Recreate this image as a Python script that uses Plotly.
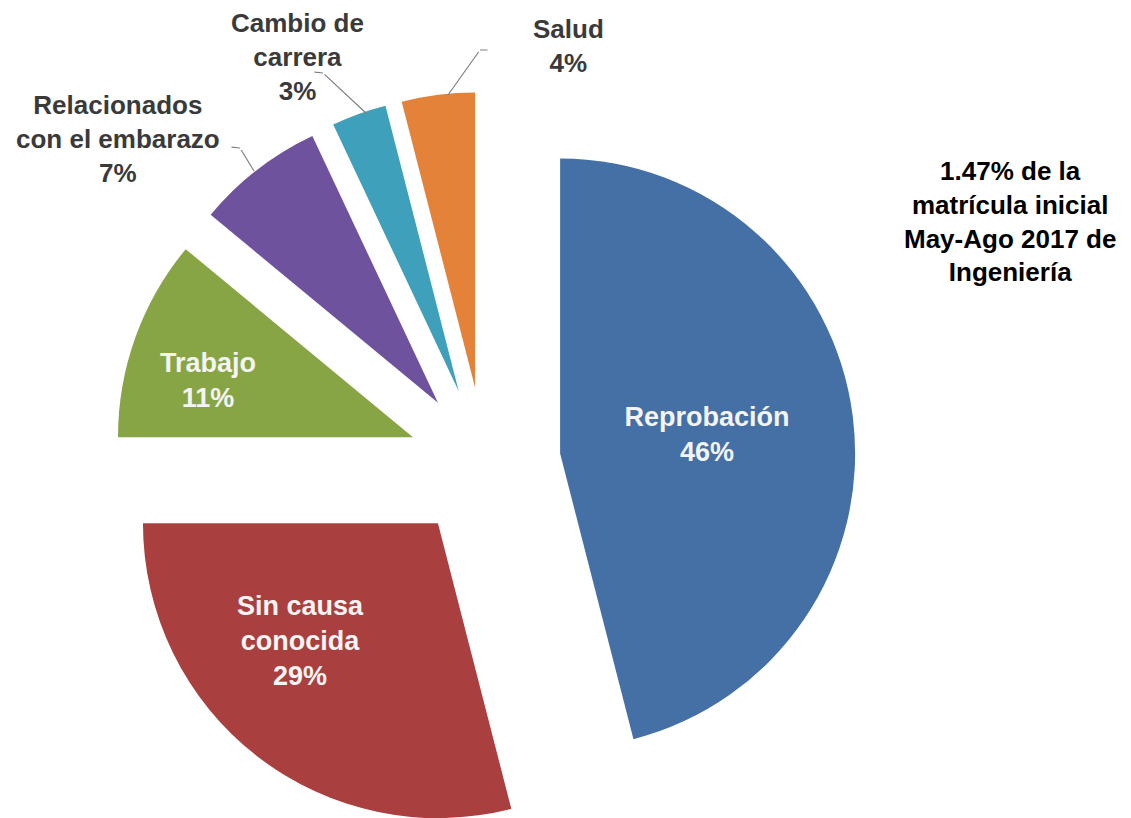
import textwrap
import plotly.graph_objects as go

# ---------------- data ----------------
categories = ["Reprobación", "Sin causa conocida", "Trabajo",
              "Relacionados con el embarazo", "Cambio de carrera", "Salud"]
values = [46, 29, 11, 7, 3, 4]
colors = ["#4470A6", "#A9403F", "#87A545", "#6E529E", "#3EA0BA", "#E4823A"]
note_lines = ["1.47% de la", "matrícula inicial", "May-Ago 2017 de", "Ingeniería"]

# ---------------- layout helpers ----------------
W, H = 1131, 850          # figure size (page shows top-left 1131x818 after body margin)
OFF = 8                   # default body margin of the html page
FONT = "Liberation Sans, Arial, Helvetica, sans-serif"


def px(x):
    return (x - OFF) / W


def py(y):
    return 1 - (y - OFF) / H


# pie placement (page pixels) and explode amount
CX, CY, R, PULL = 484.6, 463.0, 295.0, 0.258
half = R * (1 + PULL)
dom_x = [(CX - OFF - half) / W, (CX - OFF + half) / W]
dom_y = [1 - (CY - OFF + half) / H, 1 - (CY - OFF - half) / H]

total = sum(values)
wrapped = ["<br>".join(textwrap.wrap(c, 15)) for c in categories]
pcts = [round(100 * v / total) for v in values]
native_text = [i == 0 for i in range(len(values))]   # label plotly places itself

fig = go.Figure()
fig.add_trace(go.Pie(
    labels=categories,
    values=values,
    customdata=wrapped,
    sort=False,
    direction="clockwise",
    rotation=0,
    marker=dict(colors=colors, line=dict(width=0)),
    pull=[PULL] * len(values),
    texttemplate=["%{customdata}<br>%{percent:.0%}" if n else "" for n in native_text],
    textposition=["inside" if n else "none" for n in native_text],
    insidetextorientation="horizontal",
    textfont=dict(family=FONT, size=27, color="#F4F4F4", weight="bold"),
    domain=dict(x=dom_x, y=dom_y),
    hoverinfo="label+percent",
    showlegend=False,
))

annotations = []
# labels inside the red and green slices, placed like the reference
for i, (tx, ty) in {1: (300, 641), 2: (208, 380)}.items():
    annotations.append(dict(
        x=px(tx), y=py(ty), xref="paper", yref="paper",
        text=f"{wrapped[i]}<br>{pcts[i]}%", showarrow=False,
        font=dict(family=FONT, size=27, color="#F4F4F4", weight="bold"),
        xanchor="center", yanchor="middle", align="center",
    ))

# outside labels for the small slices: text block centre and leader-line polyline
callouts = {
    3: ((118, 139), [(230, 147), (240, 148), (254, 171)]),
    4: ((297, 57), [(313, 72), (323, 73), (367, 114)]),
    5: ((568, 46), [(489, 50), (480, 50), (448, 95)]),
}
for i, ((tx, ty), pts) in callouts.items():
    annotations.append(dict(
        x=px(tx), y=py(ty), xref="paper", yref="paper",
        text=f"{wrapped[i]}<br>{pcts[i]}%", showarrow=False,
        font=dict(family=FONT, size=26, color="#3A3A3A", weight="bold"),
        xanchor="center", yanchor="middle", align="center",
    ))
    for (lx, ly), (hx, hy) in zip(pts[:-1], pts[1:]):
        annotations.append(dict(
            x=px(hx), y=py(hy), xref="paper", yref="paper",
            ax=lx - hx, ay=ly - hy, axref="pixel", ayref="pixel",
            text=" ", font=dict(size=1),
            showarrow=True, arrowhead=0, arrowwidth=1.2, arrowcolor="#808080", standoff=0,
        ))

annotations.append(dict(
    x=px(1010), y=py(221), xref="paper", yref="paper",
    text="<br>".join(note_lines), showarrow=False,
    font=dict(family=FONT, size=26, color="#000000", weight="bold"),
    xanchor="center", yanchor="middle", align="center",
))

fig.update_layout(
    width=W, height=H,
    margin=dict(l=0, r=0, t=0, b=0),
    paper_bgcolor="white",
    plot_bgcolor="white",
    annotations=annotations,
    showlegend=False,
)

fig.write_html("out.html")
